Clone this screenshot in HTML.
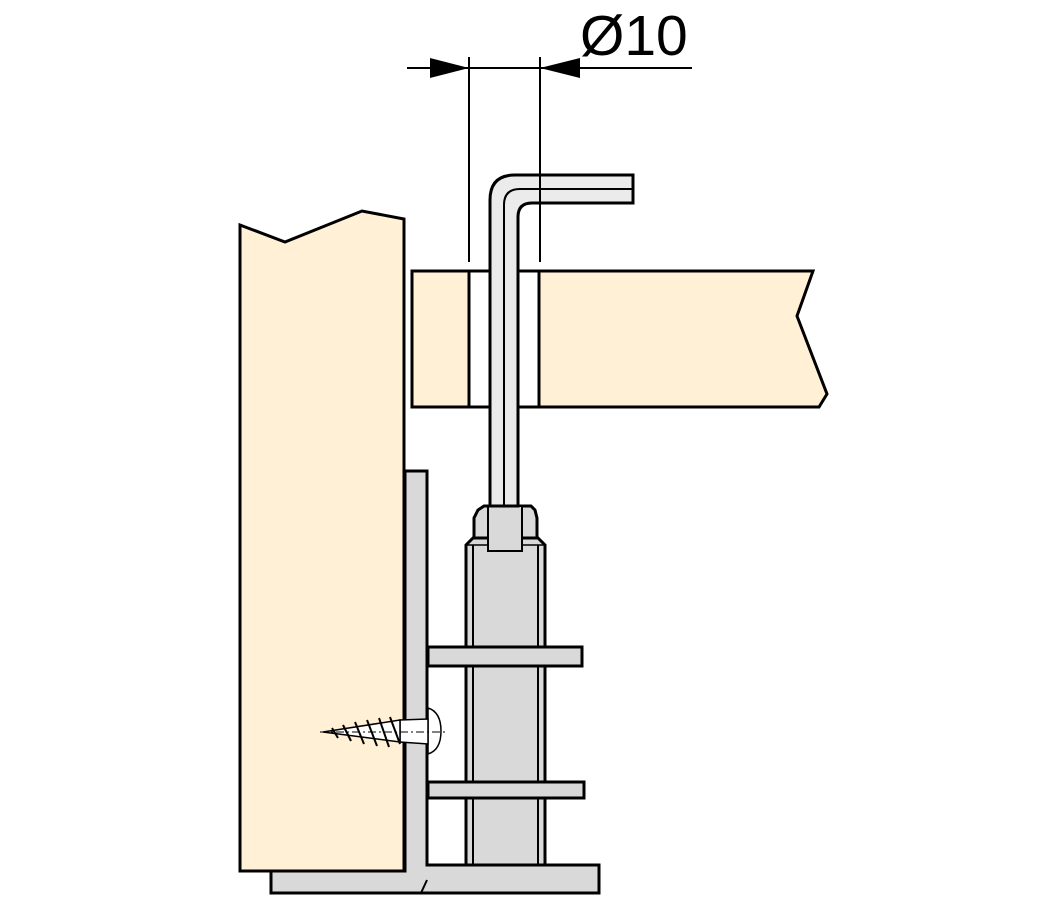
<!DOCTYPE html>
<html><head><meta charset="utf-8"><style>
html,body{margin:0;padding:0;background:#fff;}
svg{display:block;}
</style></head><body>
<svg width="1038" height="911" viewBox="0 0 1038 911" xmlns="http://www.w3.org/2000/svg">
<g stroke="#000" stroke-width="3" stroke-linejoin="miter">
  <polygon points="405,471 427,471 427,865 599,865 599,893 271,893 271,871 405,871" fill="#d9d9d9"/>
  <line x1="427" y1="880" x2="421" y2="893" stroke-width="2"/>
  <polygon points="240,225 285,242 362,211 404,219 404,871 240,871" fill="#fff0d6"/>
  <polygon points="412,271 813,271 797,316 827,394 819,407 412,407" fill="#fff0d6"/>
  <rect x="469" y="271" width="70" height="136" fill="#fff"/>
  <polygon points="466,545 473,538 538,538 545,545 545,865 466,865" fill="#d9d9d9"/>
  <line x1="473" y1="545" x2="473" y2="865" stroke-width="2"/>
  <line x1="538" y1="545" x2="538" y2="865" stroke-width="2"/>
  <line x1="466" y1="545" x2="545" y2="545" stroke-width="1.5"/>
  <polygon points="474,538 474,518 478,510 484,506 531,506 535,510 537,518 537,538" fill="#d9d9d9"/>
  <rect x="488" y="506" width="34" height="45" fill="#d9d9d9" stroke-width="2"/>
  <rect x="428" y="647" width="154" height="19" fill="#d9d9d9"/>
  <rect x="428" y="782" width="156" height="16" fill="#d9d9d9"/>
  <path d="M490,506 L490,200 Q490,175 515,175 L633,175 L633,203 L532,203 Q518,203 518,217 L518,506 Z" fill="#ebebeb"/>
  <path d="M504,506 L504,205 Q504,189 520,189 L633,189" fill="none" stroke-width="2"/>
</g>
<g stroke="#000" stroke-width="1.5" fill="#fff">
  <path d="M428,708 Q441,712 441,731 Q441,750 428,754 Z"/>
  <path d="M400,720 L428,719 L428,744 L400,742 Z"/>
  <path d="M323,732 L400,720 L400,742 Z"/>
  <g fill="none" stroke-width="2">
    <path d="M332,728 L338,738"/><path d="M343,725 L351,741"/><path d="M355,722 L364,744"/>
    <path d="M367,720 L377,746"/><path d="M379,718 L389,747"/><path d="M390,717 L400,744"/>
  </g>
  <line x1="320" y1="732" x2="445" y2="732" stroke-dasharray="8,3,2,3" stroke-width="1"/>
</g>
<g stroke="#000" stroke-width="2">
  <line x1="407" y1="68" x2="692" y2="68"/>
  <line x1="469" y1="57" x2="469" y2="262"/>
  <line x1="540" y1="57" x2="540" y2="262"/>
</g>
<polygon points="430,58 469,68 430,78" fill="#000"/>
<polygon points="580,58 540,68 580,78" fill="#000"/>
<text x="580" y="55" font-family="Liberation Sans, sans-serif" font-size="57" fill="#000">Ø10</text>
</svg>
</body></html>
